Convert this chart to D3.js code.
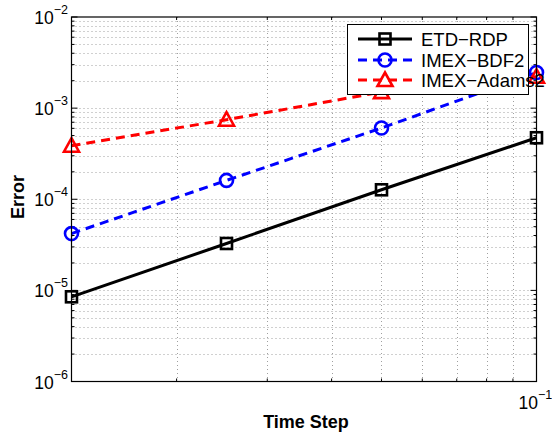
<!DOCTYPE html>
<html><head><meta charset="utf-8">
<script src="https://cdn.jsdelivr.net/npm/d3@7/dist/d3.min.js"></script>
<style>body{margin:0;background:#fff}svg{display:block}text{font-family:"Liberation Sans",Arial,Helvetica,sans-serif}</style>
</head><body><svg id="c" width="552" height="436"></svg>
<script>
const timeSteps = [0.0125, 0.025, 0.05, 0.1];
const etdRdp   = [8.5e-6, 3.27e-5, 1.27e-4, 4.73e-4];
const imexBdf2 = [4.2e-5, 1.61e-4, 6.05e-4, 2.46e-3];
const imexAdams2 = [3.87e-4, 7.46e-4, 1.5e-3, 2.21e-3];
const seriesNames = ["ETD\u2212RDP", "IMEX\u2212BDF2", "IMEX\u2212Adams2"];
const xDomain = [0.0125, 0.1];
const yDomain = [1e-6, 1e-2];
const yTickExps = [-6, -5, -4, -3, -2];
const xTickExps = [-1];

const svg = d3.select("#c");
const L = 71.5, R = 536.5, T = 17, B = 381.5;
const x = d3.scaleLog().domain(xDomain).range([L, R]);
const y = d3.scaleLog().domain(yDomain).range([B, T]);

const xGrid = [], yGrid = [];
for (let e = -2; e <= -1; e++) for (let m = 1; m <= 9; m++) { const v = m * Math.pow(10, e); if (v > xDomain[0] * 1.0001 && v < xDomain[1] * 0.9999) xGrid.push(v); }
for (let e = -6; e <= -3; e++) for (let m = 1; m <= 9; m++) { const v = m * Math.pow(10, e); if (v > yDomain[0] * 1.0001 && v < yDomain[1] * 0.9999) yGrid.push(v); }

const g = svg.append("g");
g.selectAll(".gx").data(xGrid).enter().append("line")
  .attr("x1", d => Math.round(x(d)) + 0.5).attr("x2", d => Math.round(x(d)) + 0.5)
  .attr("y1", T).attr("y2", B).attr("stroke", "#a0a0a0").attr("stroke-width", 1).attr("stroke-dasharray", "1,3");
g.selectAll(".gy").data(yGrid).enter().append("line")
  .attr("y1", d => Math.round(y(d)) + 0.5).attr("y2", d => Math.round(y(d)) + 0.5)
  .attr("x1", L).attr("x2", R).attr("stroke", "#a0a0a0").attr("stroke-width", 1).attr("stroke-dasharray", "1,3");

const isMajor = v => Math.abs(Math.log10(v) - Math.round(Math.log10(v))) < 1e-6;
const ax = svg.append("g").attr("stroke", "#000").attr("stroke-width", 1);
xGrid.concat([0.1]).forEach(v => {
  const px = x(v), len = isMajor(v) ? 6 : 3;
  ax.append("line").attr("x1", px).attr("x2", px).attr("y1", B).attr("y2", B - len);
  ax.append("line").attr("x1", px).attr("x2", px).attr("y1", T).attr("y2", T + len);
});
yGrid.concat([1e-6, 1e-2]).forEach(v => {
  const py = y(v), len = isMajor(v) ? 6 : 3;
  ax.append("line").attr("y1", py).attr("y2", py).attr("x1", L).attr("x2", L + len);
  ax.append("line").attr("y1", py).attr("y2", py).attr("x1", R).attr("x2", R - len);
});

const series = [
  { name: seriesNames[0], vals: etdRdp, color: "#000000", dash: null, marker: "square" },
  { name: seriesNames[1], vals: imexBdf2, color: "#0000ff", dash: "9,6", marker: "circle" },
  { name: seriesNames[2], vals: imexAdams2, color: "#ff0000", dash: "9,6", marker: "triangle" }
];
const line = d3.line().x(d => x(d[0])).y(d => y(d[1]));
function drawMarker(sel, type, cx, cy, color) {
  if (type === "square") sel.append("rect").attr("x", cx - 5.5).attr("y", cy - 5.5).attr("width", 11).attr("height", 11)
    .attr("fill", "none").attr("stroke", color).attr("stroke-width", 2.6);
  else if (type === "circle") sel.append("circle").attr("cx", cx).attr("cy", cy).attr("r", 6.5)
    .attr("fill", "none").attr("stroke", color).attr("stroke-width", 2.6);
  else sel.append("path").attr("d", `M${cx},${cy - 7.5}L${cx + 7.5},${cy + 6}L${cx - 7.5},${cy + 6}Z`)
    .attr("fill", "none").attr("stroke", color).attr("stroke-width", 2.6).attr("stroke-linejoin", "miter");
}
series.forEach(s => {
  const pts = timeSteps.map((t, i) => [t, s.vals[i]]);
  svg.append("path").attr("d", line(pts)).attr("fill", "none").attr("stroke", s.color)
    .attr("stroke-width", 3).attr("stroke-dasharray", s.dash);
  const mg = svg.append("g");
  pts.forEach(p => drawMarker(mg, s.marker, x(p[0]), y(p[1]), s.color));
});

svg.append("rect").attr("x", L).attr("y", T).attr("width", R - L).attr("height", B - T)
  .attr("fill", "none").attr("stroke", "#000").attr("stroke-width", 1.2);

yTickExps.forEach(e => {
  const py = y(Math.pow(10, e));
  const t = svg.append("text").attr("text-anchor", "end").attr("x", 68).attr("y", py + 7).attr("fill", "#000");
  t.append("tspan").attr("font-size", 17.5).text("10");
  t.append("tspan").attr("font-size", 12.5).attr("dy", -10).text("\u2212" + Math.abs(e));
});
xTickExps.forEach(e => {
  const px = x(Math.pow(10, e));
  const t = svg.append("text").attr("x", px - 18).attr("y", 409).attr("fill", "#000");
  t.append("tspan").attr("font-size", 17.5).text("10");
  t.append("tspan").attr("font-size", 12.5).attr("dy", -10).text("\u2212" + Math.abs(e));
});

svg.append("text").attr("x", 306).attr("y", 428).attr("text-anchor", "middle")
  .attr("font-size", 18).attr("font-weight", "bold").text("Time Step");
svg.append("text").attr("transform", "translate(23.5,197) rotate(-90)").attr("text-anchor", "middle")
  .attr("font-size", 18).attr("font-weight", "bold").text("Error");

const lg = svg.append("g");
lg.append("rect").attr("x", 347.5).attr("y", 24.5).attr("width", 181).attr("height", 70)
  .attr("fill", "#fff").attr("stroke", "#000").attr("stroke-width", 1);
const ly = [39, 60, 80];
series.forEach((s, i) => {
  lg.append("line").attr("x1", 358).attr("x2", 412).attr("y1", ly[i]).attr("y2", ly[i])
    .attr("stroke", s.color).attr("stroke-width", 3).attr("stroke-dasharray", s.dash);
  drawMarker(lg, s.marker, 385, ly[i], s.color);
  lg.append("text").attr("x", 421).attr("y", ly[i] + 6.5).attr("font-size", 18.5).attr("fill", "#000").text(s.name);
});
</script></body></html>
